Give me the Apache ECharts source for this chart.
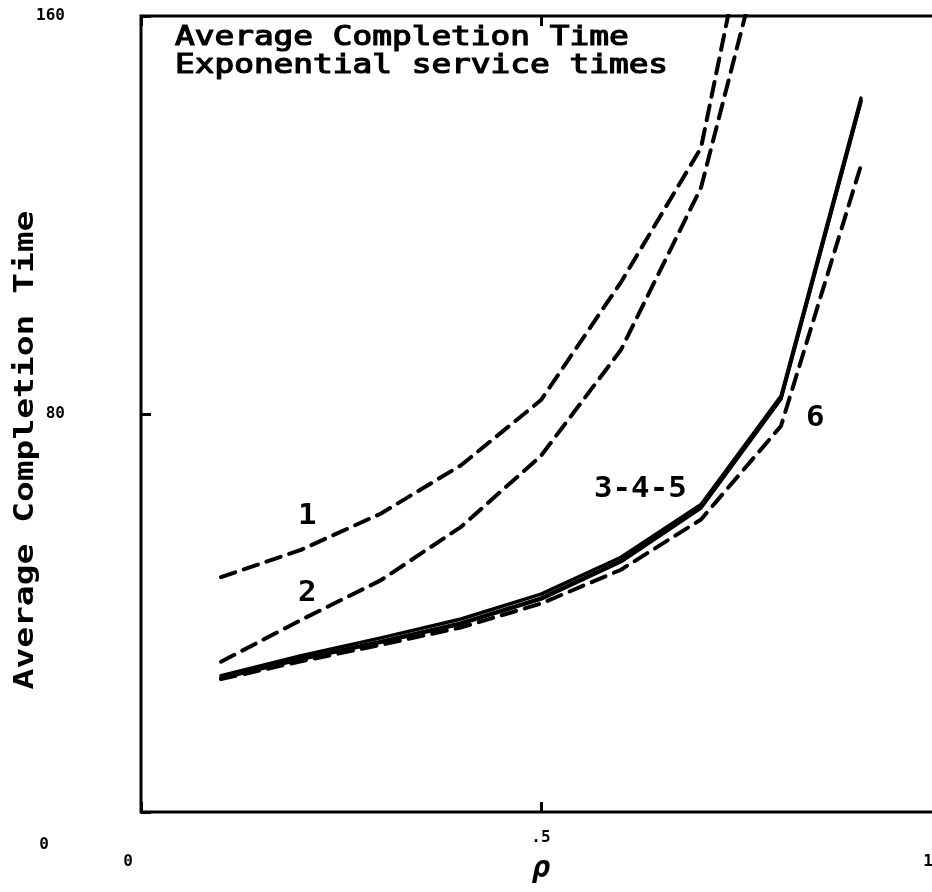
<!DOCTYPE html>
<html>
<head>
<meta charset="utf-8">
<title>Average Completion Time</title>
<script src="https://cdn.jsdelivr.net/npm/echarts@6/dist/echarts.min.js"></script>
<style>
  html, body { margin: 0; padding: 0; background: #fff; }
  #chart { width: 932px; height: 892px; }
</style>
</head>
<body>
<div id="chart"></div>
<script>
// load values (rho)
const rho = [0.1, 0.2, 0.3, 0.4, 0.5, 0.6, 0.7, 0.8, 0.9];
// curve values
const curve1 = [47.2, 52.7, 60.0, 69.7, 82.8, 106.5, 133.5, 212];
const curve2 = [30.2, 38.6, 46.6, 57.3, 71.6, 92.9, 125.5, 188];
const curve3 = [27.4, 31.4, 35.0, 38.8, 43.8, 51.2, 61.8, 83.6, 143.5];
const curve4 = [27.0, 30.8, 34.3, 38.0, 43.0, 50.5, 61.3, 83.2, 143.0];
const curve5 = [26.9, 30.7, 34.1, 37.8, 42.8, 50.3, 61.1, 83.0, 142.8];
const curve6 = [26.7, 30.3, 33.6, 37.1, 41.9, 48.7, 58.8, 77.6, 130.0];

const title1 = "Average Completion Time";
const title2 = "Exponential service times";
const yName = "Average Completion Time";

const font = '"DejaVu Sans Mono", monospace';

function pairs(vals) {
  return vals.map((v, i) => [rho[i], v]);
}

function lineSeries(name, vals, dashed) {
  return {
    name: name,
    type: "line",
    data: pairs(vals),
    showSymbol: false,
    symbol: "none",
    clip: true,
    lineStyle: {
      color: "#000",
      width: dashed ? 4 : 3.5,
      type: dashed ? [15, 9] : "solid",
      cap: "round",
      join: "round",
    },
    z: dashed ? 2 : 3,
  };
}

const chart = echarts.init(document.getElementById("chart"));

const tickStyle = { show: true, inside: true, length: 10, lineStyle: { color: "#000", width: 3 } };
const labelFont = { color: "#000", fontFamily: font, fontWeight: "bold", fontSize: 16 };

// curve tags
function tag(text, x, y) {
  return {
    type: "text",
    x: x,
    y: y,
    scaleX: 1.1,
    style: { text: text, font: "bold 28px " + font, fill: "#000" },
  };
}

const option = {
  animation: false,
  backgroundColor: "#fff",
  grid: {
    left: 141,
    top: 16,
    width: 800,
    height: 796,
    outerBoundsMode: "none",
    containLabel: false,
    show: true,
    borderColor: "#000",
    borderWidth: 3,
  },
  xAxis: [
    {
      type: "value",
      min: 0,
      max: 1,
      interval: 0.5,
      position: "bottom",
      splitLine: { show: false },
      axisLine: { show: false },
      axisTick: tickStyle,
      axisLabel: Object.assign({}, labelFont, {
        margin: 18,
        formatter: (v) => (v === 0.5 ? ".5" : "{o|" + v + "}"),
        rich: { o: Object.assign({ padding: [24, 26, 0, 0] }, labelFont) },
      }),
      name: "\u03c1",
      nameLocation: "middle",
      nameGap: 42,
      nameMoveOverlap: false,
      nameTextStyle: { fontFamily: font, fontStyle: "italic", fontWeight: "bold", fontSize: 30, color: "#000" },
    },
    {
      type: "value",
      min: 0,
      max: 1,
      interval: 0.5,
      position: "top",
      splitLine: { show: false },
      axisLine: { show: false },
      axisTick: tickStyle,
      axisLabel: { show: false },
    },
  ],
  yAxis: {
    type: "value",
    min: 0,
    max: 160,
    interval: 80,
    splitLine: { show: false },
    axisLine: { show: false },
    axisTick: tickStyle,
    axisLabel: Object.assign({}, labelFont, {
      margin: 76,
      formatter: (v) => (v === 0 ? "{o|0}" : String(v)),
      rich: { o: Object.assign({ padding: [66, 16, 0, 0] }, labelFont) },
    }),
  },
  graphic: [
    {
      type: "text",
      x: 175,
      y: 24,
      scaleX: 1.26,
      style: {
        text: title1 + "\n" + title2,
        font: "26px " + font,
        lineHeight: 28,
        fill: "#000",
        stroke: "#000",
        lineWidth: 1.2,
      },
    },
    {
      type: "text",
      x: 26,
      y: 450,
      rotation: Math.PI / 2,
      scaleX: 1.33,
      style: {
        text: yName,
        font: "bold 26px " + font,
        fill: "#000",
        align: "center",
        verticalAlign: "middle",
      },
    },
    tag("1", 298, 503),
    tag("2", 298, 580),
    tag("3-4-5", 594, 476),
    tag("6", 806, 405),
  ],
  series: [
    lineSeries("1", curve1, true),
    lineSeries("2", curve2, true),
    lineSeries("3", curve3, false),
    lineSeries("4", curve4, false),
    lineSeries("5", curve5, false),
    lineSeries("6", curve6, true),
  ],
};

chart.setOption(option);
</script>
</body>
</html>
